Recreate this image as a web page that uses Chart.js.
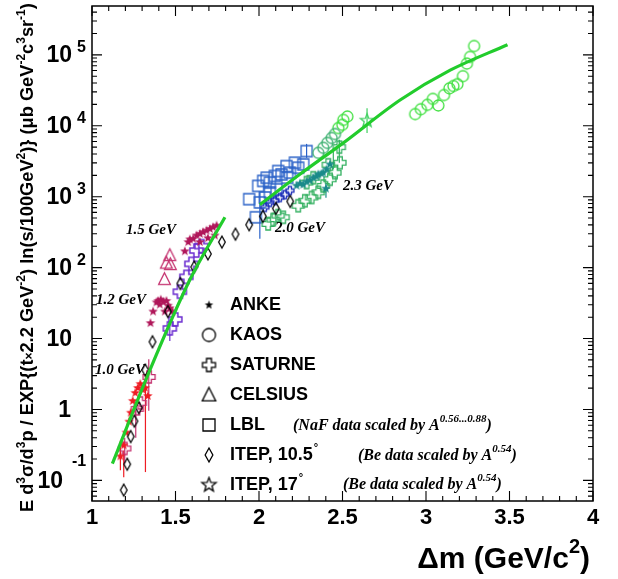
<!DOCTYPE html>
<html>
<head>
<meta charset="utf-8">
<script src="https://cdn.jsdelivr.net/npm/chart.js@4.4.1/dist/chart.umd.min.js"></script>
<style>
  html, body { margin: 0; padding: 0; background: #fff; }
  canvas { display: block; }
</style>
</head>
<body>
<canvas id="chart" width="618" height="579"></canvas>
<script>
// ------------------------------------------------------------
// Invariant cross section vs missing mass, log scale
// ------------------------------------------------------------

const SANS  = "'Liberation Sans', Arial, Helvetica, sans-serif";
const SERIF = "'Liberation Serif', 'Times New Roman', serif";
const FIT_GREEN = "#22cc2c";

const X_MIN = 1, X_MAX = 4;
const Y_MIN = 0.0512, Y_MAX = 4.88e5;
const xTickValues = [1, 1.5, 2, 2.5, 3, 3.5, 4];
const xTickLabels = ["1", "1.5", "2", "2.5", "3", "3.5", "4"];
const yDecades    = [-1, 0, 1, 2, 3, 4, 5];

// [Δm, value]
const itep105 = [[1.190,0.073],[1.211,0.169],[1.232,0.415],[1.254,0.684],[1.280,1.06],[1.319,3.59],
  [1.362,9.0],[1.454,24.0],[1.529,59.7],[1.612,102],[1.694,156],[1.778,229],[1.859,296],
  [1.941,402],[2.023,528],[2.101,684],[2.187,857]];
const anke10 = [[1.170,0.218],[1.190,0.311],[1.205,0.472],[1.222,0.673],[1.232,0.90],[1.244,1.32],
  [1.259,1.71],[1.274,2.01],[1.289,2.29],[1.304,1.89],[1.319,2.01],[1.334,1.55]];
const anke12 = [[1.350,16.5],[1.366,24.0],[1.386,32.4],[1.396,33.9],[1.406,30.1],[1.412,35.3],
  [1.426,33.1],[1.436,24.0],[1.446,33.9],[1.456,29.1],[1.466,26.7],[1.482,24.0]];
const anke15 = [[1.556,170],[1.576,229],[1.586,250],[1.606,255],[1.626,284],[1.646,299],[1.646,229],
  [1.665,316],[1.686,333],[1.694,260],[1.706,351],[1.725,371],[1.736,284],[1.746,391]];
const anke23 = [[2.225,1430],[2.245,1530],[2.265,1480],[2.285,1630],[2.305,1690],[2.325,1850],
  [2.345,1920],[2.355,2060],[2.375,2110],[2.385,2180],[2.401,1300],[2.405,2430],[2.425,2850]];
const celsius = [[1.466,149],[1.445,116],[1.469,111],[1.434,68.4]];
const saturne10 = [[1.196,0.282],[1.272,1.02],[1.289,1.24],[1.342,2.87]];
const saturne15 = [[1.466,13.9],[1.499,18.6],[1.526,45.7],[1.565,74.1],[1.595,113],[1.625,174],[1.655,201]];
const saturneBlue = [[2.035,706],[2.065,830],[2.095,885],[2.125,975],[2.155,1070],[2.185,1220]];
const saturne20 = [[2.055,412],[2.085,475],[2.115,541],[2.145,512],[2.235,746],[2.275,877],[2.285,1580],
  [2.315,975],[2.325,1850],[2.355,1150],[2.385,1420],[2.415,2820],[2.425,1760],[2.455,2180],
  [2.481,4990],[2.485,3010]];
const lbl = [[1.941,923],[1.981,512],[1.995,1420],[2.005,830],[2.025,1670],[2.035,975],[2.046,1850],
  [2.065,1580],[2.065,1150],[2.095,1960],[2.105,1270],[2.115,2300],[2.135,2060],[2.165,2700],
  [2.169,1850],[2.185,2180],[2.215,3010],[2.235,2560],[2.265,2850],[2.285,4390]];
const kaosLow  = [[2.355,4150],[2.385,4880],[2.409,5730],[2.435,6730],[2.455,7650]];
const kaosHigh = [[2.475,9290],[2.499,10300],[2.505,12100],[2.529,13500],[2.935,14600],[2.969,17100],
  [3.008,19700],[3.041,23900],[3.074,19300],[3.108,27100],[3.140,33700],[3.164,36300],
  [3.188,38600],[3.221,50000],[3.245,75300],[3.264,93500],[3.288,133000]];
const itep17 = [[2.647,11800]];

// parametrisation curves
const fitLow  = [[1.122,0.172],[1.336,3.13],[1.586,67.3],[1.796,512]];
const fitHigh = [[2.005,773],[2.245,2070],[2.505,5740],[2.845,23100],[3.145,60700],[3.488,139000]];

// error bars: [Δm, low, high]
const errRed    = [[1.170,0.139,0.365],[1.190,0.111,0.264],[1.320,0.131,2.96]];
const errPink   = [[1.196,0.174,0.40],[1.262,0.40,1.0],[1.340,0.96,5.1]];
const errPurple = [[1.466,9.2,16]];
const errBlue   = [[2.005,255,1150],[2.285,3530,5550]];
const errGreen  = [[2.445,2430,4880],[2.481,3010,6370]];
const errTeal   = [[2.401,968,1580]];
const errItep17 = [[2.647,7910,17700]];

const ERRORS = [
  [errRed, "#ee1c24"], [errPink, "#c4306e"], [errPurple, "#6a2bd0"], [errBlue, "#2a62c8"],
  [errGreen, "#33b060"], [errTeal, "#1a8a8a"], [errItep17, "#40d060"]
];

// ─── markers ────────────────────────────────────────────────
const marker = (shape, color, size, fill = false, lw = 1.3) => {
  const w = Math.ceil(size + 4);
  const c = document.createElement("canvas");
  c.width = c.height = w;
  const g = c.getContext("2d");
  g.translate(w / 2, w / 2);
  g.strokeStyle = color; g.fillStyle = color; g.lineWidth = lw;
  const r = size / 2;
  g.beginPath();
  if (shape === "circle") g.arc(0, 0, r, 0, Math.PI * 2);
  else if (shape === "square") g.rect(-r, -r, size, size);
  else if (shape === "triangle") { g.moveTo(0, -r); g.lineTo(r * 0.9, r * 0.78); g.lineTo(-r * 0.9, r * 0.78); g.closePath(); }
  else if (shape === "diamond") { g.moveTo(0, -r); g.lineTo(r * 0.55, 0); g.lineTo(0, r); g.lineTo(-r * 0.55, 0); g.closePath(); }
  else if (shape === "cross") {
    const a = r * 0.38;
    [[-a,-r],[a,-r],[a,-a],[r,-a],[r,a],[a,a],[a,r],[-a,r],[-a,a],[-r,a],[-r,-a],[-a,-a]]
      .forEach(([x, y], i) => i ? g.lineTo(x, y) : g.moveTo(x, y));
    g.closePath();
  } else if (shape === "star") {
    for (let i = 0; i < 10; i++) {
      const ang = -Math.PI / 2 + i * Math.PI / 5, rr = i % 2 ? r * 0.42 : r;
      const x = rr * Math.cos(ang), y = rr * Math.sin(ang);
      i ? g.lineTo(x, y) : g.moveTo(x, y);
    }
    g.closePath();
  }
  fill ? g.fill() : g.stroke();
  return c;
};

const pts = (arr) => arr.map(([x, y]) => ({ x, y }));
const scatter = (label, data, style) => ({
  type: "scatter", label, data: pts(data), pointStyle: style, pointRadius: 5, showLine: false
});
const curve = (data) => ({
  type: "line", data: pts(data), borderColor: FIT_GREEN, borderWidth: 3.2,
  pointRadius: 0, cubicInterpolationMode: "monotone", fill: false
});

// ─── text helpers ───────────────────────────────────────────
const drawParts = (ctx, x, y, parts) => {
  let cx = x;
  parts.forEach(([text, font, dy]) => { ctx.font = font; ctx.fillText(text, cx, y + dy); cx += ctx.measureText(text).width; });
  return cx - x;
};
const partsWidth = (ctx, parts) => parts.reduce((s, [t, f]) => { ctx.font = f; return s + ctx.measureText(t).width; }, 0);

const yTitleParts = (B) => {
  const n = `bold ${B}px ${SANS}`, s = `bold ${Math.round(B * 0.68)}px ${SANS}`, up = -B * 0.42;
  return [["E d", n, 0], ["3", s, up], ["σ/d", n, 0], ["3", s, up], ["p / EXP{(t", n, 0], ["×", s, 0],
    ["2.2 GeV", n, 0], ["-2", s, up], [") ln(s/100GeV", n, 0], ["2", s, up], [")} (", n, 0],
    ["μ", n, 0], ["b GeV", n, 0], ["-2", s, up], ["c", n, 0], ["3", s, up], ["sr", n, 0], ["-1", s, up], [")", n, 0]];
};

const legendRows = [
  ["ANKE",        marker("star", "#000", 9, true)],
  ["KAOS",        marker("circle", "#000", 13)],
  ["SATURNE",     marker("cross", "#000", 13)],
  ["CELSIUS",     marker("triangle", "#000", 15)],
  ["LBL",         marker("square", "#000", 12)],
  ["ITEP, 10.5",  marker("diamond", "#000", 14), true],
  ["ITEP, 17",    marker("star", "#000", 15), true]
];

const energyLabels = [["1.5 GeV",126,234],["1.2 GeV",96,304],["1.0 GeV",95,374],["2.0 GeV",275,232],["2.3 GeV",343,190]];
const scaleNotes = [["(NaF data scaled by A", "0.56...0.88", 293, 430], ["(Be data scaled by A", "0.54", 358, 460], ["(Be data scaled by A", "0.54", 343, 489]];

const decor = {
  id: "decor",
  beforeDatasetsDraw(chart) {
    const { ctx, chartArea: a, scales: { x: xs, y: ys } } = chart;
    ctx.save();
    ctx.beginPath(); ctx.rect(a.left, a.top, a.right - a.left, a.bottom - a.top); ctx.clip();
    ctx.lineWidth = 1.2;
    ERRORS.forEach(([bars, color]) => {
      ctx.strokeStyle = color;
      bars.forEach(([x, lo, hi]) => {
        const px = xs.getPixelForValue(x);
        ctx.beginPath(); ctx.moveTo(px, ys.getPixelForValue(lo)); ctx.lineTo(px, ys.getPixelForValue(hi)); ctx.stroke();
      });
    });
    ctx.restore();
  },
  afterDraw(chart) {
    const { ctx, chartArea: a, scales: { x: xs, y: ys } } = chart;
    ctx.save();
    ctx.strokeStyle = "#000"; ctx.fillStyle = "#000";

    // frame and inward ticks
    ctx.lineWidth = 1.5;
    ctx.strokeRect(a.left, a.top, a.right - a.left, a.bottom - a.top);
    ctx.lineWidth = 1.1;
    ctx.beginPath();
    for (let i = 0; i <= 30; i++) {
      const px = xs.getPixelForValue(X_MIN + i * 0.1), len = i % 5 === 0 ? 10 : 5;
      ctx.moveTo(px, a.bottom); ctx.lineTo(px, a.bottom - len);
      ctx.moveTo(px, a.top); ctx.lineTo(px, a.top + len);
    }
    for (let k = -2; k <= 5; k++) {
      for (let m = 1; m <= 9; m++) {
        const v = m * Math.pow(10, k);
        if (v < Y_MIN || v > Y_MAX) continue;
        const py = ys.getPixelForValue(v), len = m === 1 ? 10 : 5;
        ctx.moveTo(a.left, py); ctx.lineTo(a.left + len, py);
        ctx.moveTo(a.right, py); ctx.lineTo(a.right - len, py);
      }
    }
    ctx.stroke();

    // x tick labels
    ctx.font = `bold 22px ${SANS}`;
    ctx.textAlign = "center"; ctx.textBaseline = "middle";
    xTickValues.forEach((v, i) => ctx.fillText(xTickLabels[i], xs.getPixelForValue(v), 518));

    // y tick labels, 10 with exponent
    yDecades.forEach((k) => {
      const py = ys.getPixelForValue(Math.pow(10, k));
      ctx.font = `bold 23px ${SANS}`; ctx.textAlign = "right";
      if (k === 0) { ctx.fillText("1", 71, py + 1); return; }
      if (k === -1) {
        ctx.fillText("10", 63, py + 1);
        ctx.font = `bold 16px ${SANS}`; ctx.textAlign = "left";
        ctx.fillText("-1", 72, py - 19);
        return;
      }
      ctx.fillText("10", 72, py + 1);
      if (k >= 2) {
        ctx.font = `bold 16px ${SANS}`; ctx.textAlign = "left";
        ctx.fillText(String(k), 77, py - 7);
      }
    });

    // axis titles
    ctx.textAlign = "left"; ctx.textBaseline = "alphabetic";
    const xt = [["Δm (GeV/c", `bold 30px ${SANS}`, 0], ["2", `bold 20px ${SANS}`, -15], [")", `bold 30px ${SANS}`, 0]];
    drawParts(ctx, 590 - partsWidth(ctx, xt), 568, xt);

    const B = 18 * 510 / partsWidth(ctx, yTitleParts(18));
    ctx.save();
    ctx.translate(33, 512); ctx.rotate(-Math.PI / 2);
    drawParts(ctx, 0, 0, yTitleParts(B));
    ctx.restore();

    // legend
    ctx.textBaseline = "middle";
    legendRows.forEach(([label, img, deg], i) => {
      const cy = 305 + i * 30;
      ctx.drawImage(img, 209 - img.width / 2, cy - img.height / 2);
      ctx.font = `bold 18px ${SANS}`;
      ctx.fillText(label, 230, cy);
      if (deg) {
        const w = ctx.measureText(label).width;
        ctx.font = `bold 11px ${SANS}`;
        ctx.fillText("°", 231 + w, cy - 7);
      }
    });

    // beam energy labels and scaling notes
    ctx.textBaseline = "alphabetic";
    ctx.font = `italic bold 15px ${SERIF}`;
    energyLabels.forEach(([t, x, y]) => ctx.fillText(t, x, y));
    scaleNotes.forEach(([t, sup, x, y]) => {
      drawParts(ctx, x, y, [[t, `italic bold 16px ${SERIF}`, 0], [sup, `italic bold 11px ${SERIF}`, -8], [")", `italic bold 16px ${SERIF}`, 0]]);
    });
    ctx.restore();
  }
};

new Chart(document.getElementById("chart"), {
  type: "scatter",
  data: {
    datasets: [
      curve(fitLow),
      curve(fitHigh),
      scatter("ITEP 10.5", itep105, marker("diamond", "#000", 12)),
      scatter("ANKE 1.0", anke10, marker("star", "#ee1c24", 10, true)),
      scatter("SATURNE 1.0", saturne10, marker("cross", "#c4306e", 12)),
      scatter("ANKE 1.2", anke12, marker("star", "#b0175a", 10, true)),
      scatter("ANKE 1.5", anke15, marker("star", "#b0175a", 10, true)),
      scatter("CELSIUS", celsius, marker("triangle", "#c4306e", 13)),
      scatter("SATURNE 1.5", saturne15, marker("cross", "#6a2bd0", 13, false, 1.5)),
      scatter("ANKE 2.3", anke23, marker("star", "#1a8a8a", 10, true)),
      scatter("SATURNE 2.0", saturne20, marker("cross", "#33b060", 12)),
      scatter("SATURNE blue", saturneBlue, marker("cross", "#2233bb", 8)),
      scatter("KAOS", kaosLow, marker("circle", "#3aaf6e", 11)),
      scatter("KAOS", kaosHigh, marker("circle", "#40e040", 11)),
      scatter("ITEP 17", itep17, marker("star", "#40d060", 14)),
      scatter("LBL", lbl, marker("square", "#2a62c8", 11))
    ]
  },
  options: {
    responsive: false,
    animation: false,
    events: [],
    layout: { padding: { top: 2, right: 25, left: 0, bottom: 0 } },
    plugins: { legend: { display: false }, tooltip: { enabled: false } },
    scales: {
      x: {
        type: "linear", min: X_MIN, max: X_MAX,
        ticks: { display: false }, grid: { display: false }, border: { display: false },
        afterFit: (s) => { s.height = 78; }
      },
      y: {
        type: "logarithmic", min: Y_MIN, max: Y_MAX,
        ticks: { display: false }, grid: { display: false }, border: { display: false },
        afterFit: (s) => { s.width = 92; }
      }
    }
  },
  plugins: [decor]
});
</script>
</body>
</html>
